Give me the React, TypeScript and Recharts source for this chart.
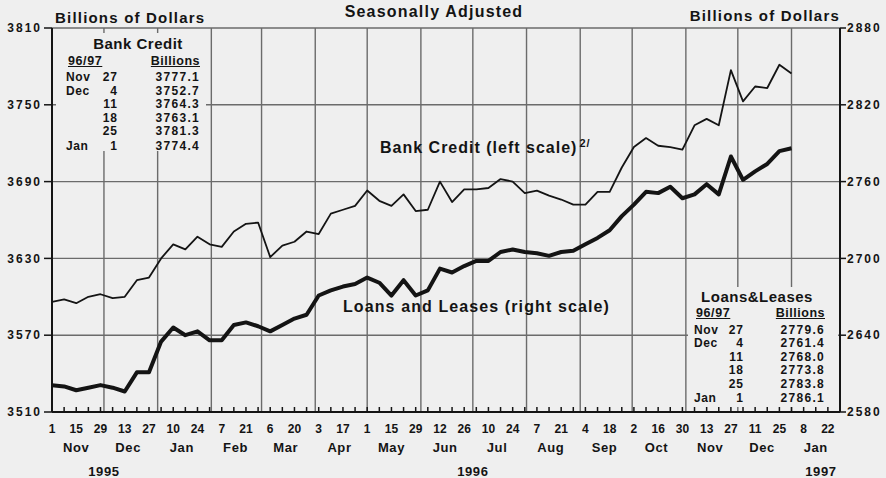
import React from 'react';
import { LineChart, Line, XAxis, YAxis, CartesianGrid, ReferenceLine } from 'recharts';

// weekly series, Nov 1 1995 .. Jan 1 1997 (Wednesdays)
const bankCredit = [
  3596, 3598, 3595, 3600, 3602, 3599, 3600, 3613, 3615, 3630,
  3641, 3637, 3647, 3641, 3639, 3651, 3657, 3658, 3631, 3640,
  3643, 3651, 3649, 3665, 3668, 3671, 3683, 3675, 3671, 3680,
  3667, 3668, 3690, 3674, 3684, 3684, 3685, 3692, 3690, 3681,
  3683, 3679, 3676, 3672, 3672, 3682, 3682, 3701, 3717, 3724,
  3718, 3717, 3715, 3734, 3739, 3734, 3777.1, 3752.7, 3764.3, 3763.1,
  3781.3, 3774.4,
];
const loansLeases = [
  2601, 2600, 2597, 2599, 2601, 2599, 2596, 2611, 2611, 2635,
  2646, 2640, 2643, 2636, 2636, 2648, 2650, 2647, 2643, 2648,
  2653, 2656, 2671, 2675, 2678, 2680, 2685, 2681, 2671, 2683,
  2671, 2675, 2692, 2689, 2694, 2698, 2698, 2705, 2707, 2705,
  2704, 2702, 2705, 2706, 2711, 2716, 2722, 2733, 2742, 2752,
  2751, 2756, 2747, 2750, 2758, 2750, 2779.6, 2761.4, 2768.0, 2773.8,
  2783.8, 2786.1,
];

const dayLabels = [
  '1', '15', '29', '13', '27', '10', '24', '7', '21', '6', '20', '3', '17',
  '1', '15', '29', '12', '26', '10', '24', '7', '21', '4', '18', '2', '16',
  '30', '13', '27', '11', '25', '8', '22',
];
const monthLabels = ['Nov', 'Dec', 'Jan', 'Feb', 'Mar', 'Apr', 'May', 'Jun', 'Jul', 'Aug', 'Sep', 'Oct', 'Nov', 'Dec', 'Jan'];
const yearLabels = ['1995', '1996', '1997'];
const leftTicks = [3510, 3570, 3630, 3690, 3750, 3810];
const rightTicks = [2580, 2640, 2700, 2760, 2820, 2880];

const tableMonths = ['Nov', 'Dec', '', '', '', 'Jan'];
const tableDays = ['27', '4', '11', '18', '25', '1'];

const FONT = '"Liberation Sans", Arial, sans-serif';
const ink = '#141414';
const gridCol = '#6b6b6b';
const paper = '#efefef';

const start = Date.UTC(1995, 10, 1);
const dayOf = (y: number, m: number, d: number) => Math.round((Date.UTC(y, m, d) - start) / 86400000);

const data = bankCredit.map((v, i) => ({ day: i * 7, bank: v, loans: loansLeases[i] }));
const weekTicks = Array.from({ length: 65 }, (_, i) => i * 7);
const monthStarts = Array.from({ length: 14 }, (_, i) => dayOf(1995, 11 + i, 1));
const monthMids = monthLabels.map((_, i) => dayOf(1995, 10 + i, 15));
const yearPos = [dayOf(1995, 11, 1), dayOf(1996, 6, 1), dayOf(1997, 0, 18)];

const DayTick = (props: any) => {
  const { x, y, payload } = props;
  const w = Math.round(payload.value / 7);
  return (
    <g>
      <line x1={x} x2={x} y1={y} y2={y - 5} stroke={ink} strokeWidth={1.5} />
      {w % 2 === 0 && (
        <text x={x} y={y + 21} textAnchor="middle" fill={ink} fontSize={12} fontWeight={700} fontFamily={FONT}>
          {dayLabels[w / 2]}
        </text>
      )}
    </g>
  );
};

const LabelTick = (props: any) => {
  const { x, y, payload, labels, positions, dy } = props;
  const i = positions.indexOf(payload.value);
  return (
    <text x={x} y={y + dy} textAnchor="middle" fill={ink} fontSize={13} fontWeight={700} fontFamily={FONT} letterSpacing={0.6}>
      {labels[i]}
    </text>
  );
};

const T = ({ x, y, size, anchor = 'start', ls = 0.6, underline = false, children }: any) => {
  const style: React.CSSProperties = {
    position: 'absolute', top: y - size / 2, fontSize: size, lineHeight: `${size}px`,
    fontFamily: FONT, fontWeight: 700, color: ink, letterSpacing: ls, whiteSpace: 'nowrap',
    textDecoration: underline ? 'underline' : 'none',
  };
  if (anchor === 'start') style.left = x;
  else if (anchor === 'end') style.right = 886 - x;
  else { style.left = x; style.transform = 'translateX(-50%)'; }
  return <div style={style}>{children}</div>;
};

const Inset = ({ box, title, titleX, titleY, headY, headLeft, headRight, rowY, rowGap, monthLeft, dayRight, valueRight, values }: any) => (
  <>
    <div style={{ position: 'absolute', left: box[0], top: box[1], width: box[2], height: box[3], background: paper }} />
    <T x={titleX} y={titleY} size={15} anchor="middle" ls={0.5}>{title}</T>
    <T x={headLeft} y={headY} size={12.5} underline ls={0.6}>96/97</T>
    <T x={headRight} y={headY} size={12.5} anchor="end" underline ls={0.5}>Billions</T>
    {values.map((v: string, i: number) => {
      const y = rowY + i * rowGap + (i === 5 ? 1 : 0);
      return (
        <React.Fragment key={i}>
          <T x={monthLeft} y={y} size={12} ls={0.6}>{tableMonths[i]}</T>
          <T x={dayRight} y={y} size={12} anchor="end" ls={1}>{tableDays[i]}</T>
          <T x={valueRight} y={y} size={12} anchor="end" ls={1.3}>{v}</T>
        </React.Fragment>
      );
    })}
  </>
);

const App = () => {
  return (
    <div style={{ position: 'absolute', left: 0, top: 0, width: 886, height: 478, background: paper, overflow: 'hidden' }}>
      <LineChart width={886} height={478} data={data} margin={{ top: 28, right: 0, bottom: 0, left: 0 }}>
        <CartesianGrid xAxisId="day" yAxisId="left" vertical={false} stroke={gridCol} strokeWidth={1.4} />
        {monthStarts.map((d) => (
          <ReferenceLine key={d} xAxisId="day" yAxisId="left" x={d} stroke={gridCol} strokeWidth={1.4} />
        ))}
        <XAxis xAxisId="day" dataKey="day" type="number" domain={[0, 455]} ticks={weekTicks} interval={0}
          tickSize={0} tickMargin={0} tickLine={false} tick={<DayTick />} axisLine={{ stroke: ink, strokeWidth: 2 }}
          height={20} allowDataOverflow />
        <XAxis xAxisId="month" dataKey="day" type="number" domain={[0, 455]} ticks={monthMids} interval={0}
          tickSize={0} tickMargin={0} tickLine={false} axisLine={false}
          tick={<LabelTick labels={monthLabels} positions={monthMids} dy={20} />} height={22} />
        <XAxis xAxisId="year" dataKey="day" type="number" domain={[0, 455]} ticks={yearPos} interval={0}
          tickSize={0} tickMargin={0} tickLine={false} axisLine={false}
          tick={<LabelTick labels={yearLabels} positions={yearPos} dy={22} />} height={24} />
        <YAxis yAxisId="left" domain={[3510, 3810]} ticks={leftTicks} interval={0} width={52}
          tickSize={8} tickMargin={2} axisLine={{ stroke: ink, strokeWidth: 2 }} tickLine={{ stroke: ink, strokeWidth: 1.5 }}
          tick={{ fill: ink, fontSize: 12, fontWeight: 700, fontFamily: FONT, letterSpacing: 2 }} />
        <YAxis yAxisId="right" orientation="right" domain={[2580, 2880]} ticks={rightTicks} interval={0} width={46}
          tickSize={6} tickMargin={1} axisLine={{ stroke: ink, strokeWidth: 2 }} tickLine={{ stroke: ink, strokeWidth: 1.5 }}
          tick={{ fill: ink, fontSize: 12, fontWeight: 700, fontFamily: FONT, letterSpacing: 2 }} />
        <Line xAxisId="day" yAxisId="left" dataKey="bank" stroke={ink} strokeWidth={1.8} dot={false} isAnimationActive={false} strokeLinejoin="round" />
        <Line xAxisId="day" yAxisId="right" dataKey="loans" stroke={ink} strokeWidth={4} dot={false} isAnimationActive={false} strokeLinejoin="round" />
      </LineChart>

      <T x={434} y={12} size={16} anchor="middle" ls={1.2}>Seasonally Adjusted</T>
      <T x={55} y={17} size={15} ls={1.2}>Billions of Dollars</T>
      <T x={840} y={15} size={15} anchor="end" ls={1.2}>Billions of Dollars</T>

      <T x={380} y={148} size={16} ls={1}>
        Bank Credit (left scale)<span style={{ fontSize: 11, position: 'relative', top: -6, marginLeft: 2 }}>2/</span>
      </T>
      <T x={343} y={307} size={16} ls={1.1}>Loans and Leases (right scale)</T>

      <Inset box={[56, 33, 150, 118]} title="Bank Credit" titleX={138} titleY={43} headY={61}
        headLeft={68} headRight={200} rowY={77} rowGap={13.6} monthLeft={66} dayRight={118} valueRight={200}
        values={bankCredit.slice(-6).map((v) => v.toFixed(1))} />
      <Inset box={[688, 287, 150, 120]} title="Loans&Leases" titleX={757} titleY={296} headY={313}
        headLeft={696} headRight={825} rowY={330} rowGap={13.4} monthLeft={694} dayRight={744} valueRight={825}
        values={loansLeases.slice(-6).map((v) => v.toFixed(1))} />
    </div>
  );
};

export default App;
